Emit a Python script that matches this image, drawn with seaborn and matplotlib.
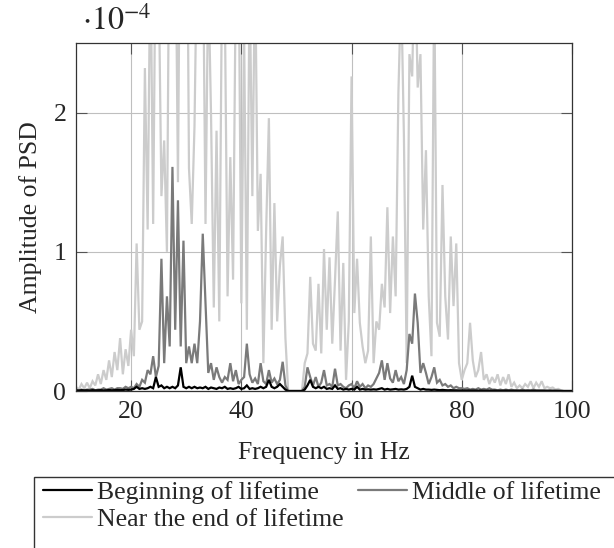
import numpy as np
import pandas as pd
import matplotlib
matplotlib.use("Agg")
import matplotlib.pyplot as plt
from matplotlib.patches import Rectangle
from matplotlib.lines import Line2D
import seaborn as sns

# ---------------- data (PSD amplitude in units of 1e-4) ----------------
freq = [10.0 + 0.5 * i for i in range(181)]  # Hz

beginning = [
    0.005, 0.003, 0.006, 0.004, 0.005, 0.003, 0.006, 0.004, 0.005, 0.006,
    0.004, 0.005, 0.007, 0.005, 0.006, 0.008, 0.006, 0.007, 0.010, 0.008,
    0.010, 0.015, 0.030, 0.015, 0.020, 0.015, 0.020, 0.030, 0.020, 0.100,
    0.030, 0.040, 0.020, 0.030, 0.020, 0.030, 0.020, 0.040, 0.170, 0.030,
    0.020, 0.030, 0.020, 0.030, 0.020, 0.025, 0.020, 0.030, 0.015, 0.025,
    0.020, 0.015, 0.025, 0.020, 0.030, 0.015, 0.020, 0.015, 0.020, 0.030,
    0.015, 0.020, 0.040, 0.015, 0.020, 0.015, 0.020, 0.030, 0.020, 0.030,
    0.080, 0.030, 0.020, 0.030, 0.050, 0.030, 0.010, 0.000, 0.000, 0.000,
    0.000, 0.000, 0.000, 0.010, 0.040, 0.080, 0.030, 0.020, 0.030, 0.020,
    0.030, 0.015, 0.020, 0.015, 0.040, 0.015, 0.020, 0.010, 0.015, 0.010,
    0.015, 0.010, 0.030, 0.010, 0.015, 0.010, 0.012, 0.010, 0.012, 0.010,
    0.015, 0.020, 0.010, 0.015, 0.010, 0.012, 0.015, 0.010, 0.012, 0.010,
    0.015, 0.030, 0.110, 0.030, 0.020, 0.010, 0.015, 0.010, 0.010, 0.008,
    0.010, 0.008, 0.006, 0.008, 0.006, 0.005, 0.006, 0.005, 0.005, 0.004,
    0.004, 0.003, 0.004, 0.003, 0.003, 0.003, 0.002, 0.003, 0.002, 0.002,
    0.002, 0.002, 0.003, 0.002, 0.002, 0.002, 0.003, 0.002, 0.002, 0.002,
    0.002, 0.001, 0.002, 0.001, 0.002, 0.001, 0.002, 0.001, 0.001, 0.001,
    0.001, 0.001, 0.001, 0.001, 0.001, 0.001, 0.000, 0.000, 0.000, 0.000,
    0.000,
]

middle = [
    0.010, 0.005, 0.010, 0.005, 0.010, 0.010, 0.015, 0.005, 0.010, 0.010,
    0.020, 0.010, 0.015, 0.020, 0.010, 0.020, 0.020, 0.015, 0.030, 0.020,
    0.03, 0.02, 0.05, 0.03, 0.08, 0.06, 0.15, 0.12, 0.25, 0.10,
    0.18, 0.95, 0.20, 0.68, 0.32, 1.61, 0.44, 1.37, 0.32, 1.08,
    0.20, 0.32, 0.20, 0.34, 0.20, 0.50, 1.13, 0.63, 0.13, 0.20,
    0.08, 0.17, 0.10, 0.06, 0.10, 0.08, 0.20, 0.07, 0.15, 0.05,
    0.08, 0.10, 0.34, 0.12, 0.06, 0.09, 0.05, 0.20, 0.07, 0.05,
    0.15, 0.06, 0.09, 0.05, 0.08, 0.21, 0.04, 0.00, 0.00, 0.00,
    0.00, 0.00, 0.00, 0.03, 0.17, 0.10, 0.04, 0.10, 0.03, 0.06,
    0.15, 0.04, 0.05, 0.03, 0.16, 0.04, 0.05, 0.03, 0.02, 0.04,
    0.05, 0.02, 0.07, 0.03, 0.05, 0.02, 0.04, 0.03, 0.05, 0.09,
    0.13, 0.22, 0.08, 0.20, 0.09, 0.06, 0.15, 0.07, 0.10, 0.05,
    0.15, 0.41, 0.34, 0.70, 0.49, 0.13, 0.20, 0.13, 0.05, 0.10,
    0.17, 0.06, 0.08, 0.04, 0.05, 0.03, 0.04, 0.02, 0.03, 0.02,
    0.02, 0.015, 0.02, 0.01, 0.015, 0.01, 0.02, 0.01, 0.015, 0.01,
    0.02, 0.01, 0.01, 0.005, 0.01, 0.005, 0.01, 0.005, 0.01, 0.005,
    0.005, 0.005, 0.01, 0.005, 0.005, 0.005, 0.01, 0.005, 0.005, 0.005,
    0.005, 0.003, 0.005, 0.003, 0.003, 0.002, 0.002, 0.0, 0.0, 0.0,
    0.0,
]

near_end = [
    0.03, 0.01, 0.05, 0.02, 0.06, 0.02, 0.07, 0.04, 0.12, 0.05,
    0.15, 0.08, 0.22, 0.10, 0.28, 0.15, 0.38, 0.12, 0.30, 0.18,
    0.44, 0.25, 1.06, 0.44, 0.50, 2.32, 1.16, 3.20, 1.20, 3.50,
    3.00, 1.40, 1.80, 1.00, 3.80, 3.10, 3.60, 1.50, 4.20, 3.60,
    4.50, 1.60, 1.20, 1.90, 3.30, 2.90, 3.40, 1.20, 3.00, 1.99,
    0.60, 1.87, 0.50, 3.00, 2.80, 0.68, 1.68, 0.80, 3.00, 3.20,
    0.63, 2.60, 0.44, 3.00, 1.40, 3.10, 1.15, 1.56, 0.20, 1.15,
    1.96, 0.44, 1.35, 0.50, 0.90, 1.11, 0.38, 0.00, 0.00, 0.00,
    0.00, 0.00, 0.00, 0.20, 0.27, 0.82, 0.34, 0.29, 0.77, 0.27,
    1.02, 0.44, 0.96, 0.34, 0.80, 1.29, 0.29, 0.92, 0.08, 0.50,
    2.26, 0.56, 0.95, 0.49, 0.32, 0.20, 0.29, 1.11, 0.20, 0.50,
    0.44, 0.77, 0.60, 1.32, 0.56, 1.11, 0.68, 2.14, 2.90, 1.83,
    0.20, 2.42, 2.26, 3.20, 2.18, 2.42, 1.16, 1.73, 0.68, 0.25,
    3.00, 0.49, 0.39, 1.48, 0.68, 0.37, 1.11, 0.61, 1.06, 0.20,
    0.08, 0.15, 0.20, 0.49, 0.22, 0.10, 0.15, 0.28, 0.08, 0.12,
    0.05, 0.10, 0.06, 0.12, 0.04, 0.10, 0.05, 0.12, 0.03, 0.06,
    0.02, 0.04, 0.02, 0.05, 0.03, 0.07, 0.02, 0.06, 0.03, 0.07,
    0.02, 0.03, 0.02, 0.025, 0.01, 0.015, 0.005, 0.0, 0.0, 0.0,
    0.0,
]

series_names = ["Beginning of lifetime", "Middle of lifetime", "Near the end of lifetime"]
series_values = [beginning, middle, near_end]
series_colors = ["#000000", "#7a7a7a", "#cccccc"]
x_ticks = [20, 40, 60, 80, 100]
y_ticks = [0, 1, 2]

# ---------------- style ----------------
sns.set_theme(style="white")
plt.rcParams["font.family"] = ["Liberation Serif", "DejaVu Serif"]
plt.rcParams["mathtext.fontset"] = "stix"
FS = 18.5

fig = plt.figure(figsize=(6.14, 5.48), dpi=100)
ax = fig.add_axes([76 / 614, 1 - 391 / 548, 496 / 614, 348 / 548])

df = pd.concat(
    [pd.DataFrame({"freq": freq, "psd": v, "series": n}) for n, v in zip(series_names, series_values)],
    ignore_index=True,
)

zorders = [5, 4, 3]
for name, color, z in zip(series_names, series_colors, zorders):
    sns.lineplot(data=df[df["series"] == name], x="freq", y="psd", color=color,
                 linewidth=1.6, ax=ax, zorder=z, legend=False, estimator=None,
                 solid_joinstyle="miter")

ax.set_xlim(10, 100)
ax.set_ylim(0, 2.5)
ax.set_xticks(x_ticks)
ax.set_yticks(y_ticks)
ax.set_xticklabels([str(t) for t in x_ticks], fontsize=FS)
ax.set_yticklabels([str(t) for t in y_ticks], fontsize=FS)
ax.grid(True, color="#bfbfbf", linewidth=0.8, zorder=0)
ax.set_axisbelow(True)
ax.tick_params(axis="both", which="major", direction="in", length=8, width=0.8,
               color="#555555", top=True, right=True, bottom=True, left=True, pad=7)
for s in ax.spines.values():
    s.set_color("#333333")
    s.set_linewidth(0.9)
    s.set_zorder(10)

ax.set_xlabel("Frequency in Hz", fontsize=FS, labelpad=14)
ax.set_ylabel("Amplitude of PSD", fontsize=FS, labelpad=8)
fig.text(82 / 614, 1 - 22 / 548, r"$\cdot 10^{-4}$", fontsize=23,
         ha="left", va="center")

# legend filled column-wise: col1 = Beginning, Near end ; col2 = Middle
order = [0, 2, 1]
handles = [Line2D([], [], color=series_colors[i], linewidth=1.6) for i in order]
labels = [series_names[i] for i in order]
fig.legend(handles, labels, ncol=2, loc="upper left",
           bbox_to_anchor=(43 / 614, 1 - 481 / 548), frameon=False, fontsize=FS,
           handlelength=1.9, handletextpad=0.2, columnspacing=0.55,
           borderaxespad=0, borderpad=0, labelspacing=0.15)
fig.patches.append(Rectangle((34 / 614, -0.2), 1.0, 1.2 - 477 / 548,
                             transform=fig.transFigure, fill=False,
                             edgecolor="#333333", linewidth=1.0))

fig.savefig("out.png", dpi=100)
